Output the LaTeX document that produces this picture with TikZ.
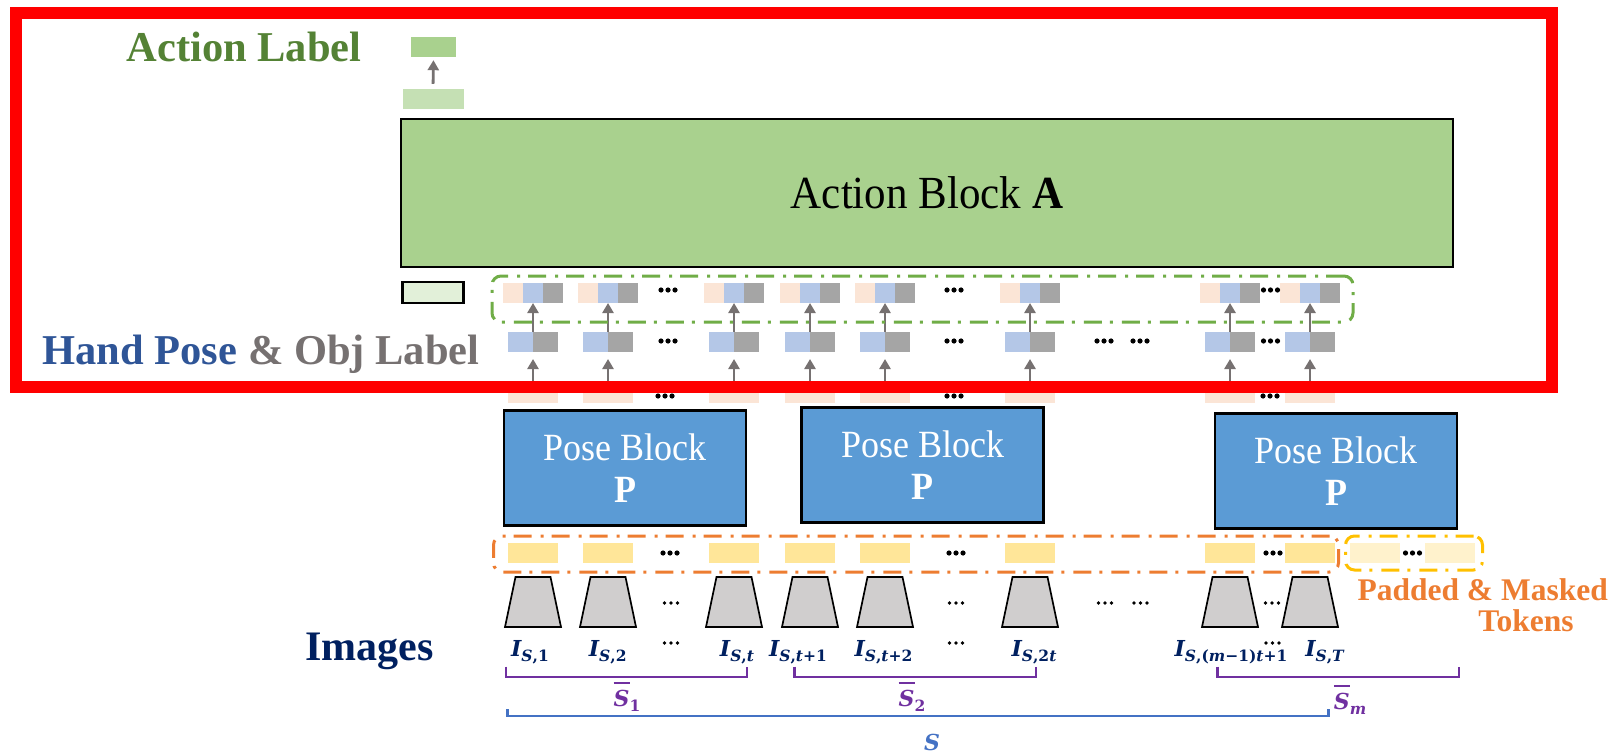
\documentclass[tikz,border=0pt]{standalone}
\usepackage{fontspec}
\setmainfont{Liberation Serif}
\newfontfamily\mathlike{DejaVu Serif}
\usetikzlibrary{arrows.meta,calc}

\definecolor{frameRed}{HTML}{FF0000}
\definecolor{actGreen}{HTML}{A9D18E}
\definecolor{actGreenL}{HTML}{C5E0B4}
\definecolor{actGreenXL}{HTML}{E2F0D9}
\definecolor{labGreen}{HTML}{548235}
\definecolor{poseBlue}{HTML}{5B9BD5}
\definecolor{handBlue}{HTML}{2F5597}
\definecolor{objGray}{HTML}{767171}
\definecolor{arrGray}{HTML}{767171}
\definecolor{tokPink}{HTML}{FBE5D6}
\definecolor{tokBlue}{HTML}{B4C7E7}
\definecolor{tokGray}{HTML}{A5A5A5}
\definecolor{tokYellow}{HTML}{FFE699}
\definecolor{tokYellowL}{HTML}{FFF2CC}
\definecolor{dashGreen}{HTML}{70AD47}
\definecolor{dashOrange}{HTML}{ED7D31}
\definecolor{dashAmber}{HTML}{FFC000}
\definecolor{imgNavy}{HTML}{002060}
\definecolor{segPurple}{HTML}{7030A0}
\definecolor{seqBlue}{HTML}{4472C4}
\definecolor{trapGray}{HTML}{D0CECE}

% image label: bold italic I with a subscript
\newcommand\imgI[1]{{\mathlike\bfseries\itshape\fontsize{22}{22}\selectfont I}%
  \raisebox{-5pt}{\mathlike\bfseries\fontsize{15.5}{15.5}\selectfont #1}}
% segment label: barred S with a subscript
\newcommand\segS[1]{{\mathlike\bfseries\itshape\fontsize{22}{22}\selectfont
  \vbox{\hrule height 2pt\kern 6pt\hbox{S}}}%
  \raisebox{-5pt}{\mathlike\bfseries\fontsize{15.5}{15.5}\selectfont #1}}
% block captions are set slightly taller than wide
\newcommand\tallish[1]{\scalebox{1}[1.07]{#1}}

\tikzset{
  tok3/.style={minimum width=60pt, minimum height=20pt, inner sep=0pt, outer sep=0pt,
    path picture={
      \fill[tokPink] (path picture bounding box.south west) rectangle
        ($(path picture bounding box.north west)!1/3!(path picture bounding box.north east)$);
      \fill[tokBlue] ($(path picture bounding box.south west)!1/3!(path picture bounding box.south east)$) rectangle
        ($(path picture bounding box.north west)!2/3!(path picture bounding box.north east)$);
      \fill[tokGray] ($(path picture bounding box.south west)!2/3!(path picture bounding box.south east)$) rectangle
        (path picture bounding box.north east);}},
  tok2/.style={minimum width=50pt, minimum height=20pt, inner sep=0pt, outer sep=0pt,
    path picture={
      \fill[tokBlue] (path picture bounding box.south west) rectangle (path picture bounding box.north);
      \fill[tokGray] (path picture bounding box.south) rectangle (path picture bounding box.north east);}},
  tok1/.style={minimum width=50pt, minimum height=20pt, inner sep=0pt, outer sep=0pt, fill=#1},
  trap/.style={draw=black, fill=trapGray, line width=1.7pt, line join=miter},
  poseblk/.style={draw=black, line width=2.4pt, fill=poseBlue, minimum width=242pt,
    minimum height=115pt, inner sep=0pt, align=center, text=white,
    font=\fontsize{36}{42}\selectfont},
  flow/.style={draw=arrGray, line width=2.8pt, -{Triangle[width=11pt,length=10pt]}},
  dashbox/.style={draw=#1, line width=3pt, rounded corners=9pt, inner sep=0pt,
    dash pattern=on 18pt off 8pt on 3pt off 9pt},
  bigdots/.pic={\fill (-7,0) circle[radius=2.6] (0,0) circle[radius=2.6] (7,0) circle[radius=2.6];},
  smalldots/.pic={\fill (-6.5,0) circle[radius=1.9] (0,0) circle[radius=1.9] (6.5,0) circle[radius=1.9];},
  segbrace/.style={draw=segPurple, line width=2.4pt},
  seqbrace/.style={draw=seqBlue, line width=2.4pt},
  bigtext/.style={font=\fontsize{42.5}{50}\selectfont\bfseries, anchor=base, inner sep=0pt},
}

\begin{document}
\begin{tikzpicture}[x=1pt, y=-1pt]
\useasboundingbox (0,0) rectangle (1616,754);

% ---- action head ----
\node[fill=actGreen, minimum width=45pt, minimum height=20pt, inner sep=0pt] (aout) at (433.5,47) {};
\node[fill=actGreenL, minimum width=61pt, minimum height=20pt, inner sep=0pt] (ain) at (433,99) {};
\draw[flow, shorten <=5pt, shorten >=3pt] (ain.north) -- (aout.south);
\node[bigtext, text=labGreen] (albl) at (244,62) {Action Label};

\node[draw=black, line width=2.4pt, fill=actGreen, minimum width=1052pt, minimum height=148pt,
  inner sep=0pt, font=\fontsize{43}{50}\selectfont] (ablk) at (927,193) {\tallish{Action Block \textbf{A}}};

\node[draw=black, line width=2.2pt, fill=actGreenXL, minimum width=61pt, minimum height=21pt,
  inner sep=0pt] (cls) at (433,292.5) {};

\node[bigtext] (hlbl) at (261,364) {\textcolor{handBlue}{Hand Pose} \textcolor{objGray}{\& Obj Label}};

% ---- token columns ----
\foreach \c [count=\i] in {533,608,734,810,885,1030,1230,1310} {
  \node[tok3] (ra-\i) at (\c,293) {};
  \node[tok2] (rb-\i) at (\c,342) {};
  \node[tok1=tokPink] (pk-\i) at (\c,393) {};
  \node[tok1=tokYellow] (ft-\i) at (\c,553) {};
  \coordinate (im-\i) at (\c,602);
  \draw[trap] ($(im-\i)+(-28,25)$) -- ($(im-\i)+(-17.5,-25)$) -- ($(im-\i)+(17.5,-25)$) -- ($(im-\i)+(28,25)$) -- cycle;
  \draw[flow, shorten >=7pt] (pk-\i.north) -- (rb-\i.south);
  \draw[flow] (rb-\i.north) -- (ra-\i.south);
}
\node[tok1=tokYellowL] (pd-1) at (1375,553) {};
\node[tok1=tokYellowL] (pd-2) at (1450,553) {};

% ellipses between tokens
\foreach \x in {668,954,1270.5} \pic at (\x,290) {bigdots};
\foreach \x in {668,954,1104,1140,1270.5} \pic at (\x,341) {bigdots};
\foreach \x in {665,954,1270} \pic at (\x,396) {bigdots};
\foreach \x in {670,956,1273,1412.5} \pic at (\x,553) {bigdots};
\foreach \x in {671,956,1105,1140.5,1272} \pic at (\x,603) {smalldots};
\foreach \x in {671,956,1272.5} \pic at (\x,643) {smalldots};

% grouping frames
\node[dashbox=dashGreen, minimum width=861pt, minimum height=46pt] (grpA) at (922.5,299) {};
\node[dashbox=dashOrange, minimum width=845pt, minimum height=36pt] (grpF) at (916,554) {};
\node[dashbox=dashAmber, minimum width=137pt, minimum height=34pt] (grpP) at (1414,553) {};

% pose blocks
\node[poseblk] (pb-1) at (625,468) {\tallish{Pose Block}\\\tallish{\textbf{P}}};
\node[poseblk] (pb-2) at (922.5,465) {\tallish{Pose Block}\\\tallish{\textbf{P}}};
\node[poseblk] (pb-3) at (1336,471) {\tallish{Pose Block}\\\tallish{\textbf{P}}};

% ---- image labels ----
\begin{scope}[every node/.style={anchor=base, inner sep=0pt, text=imgNavy}]
  \node (il-1) at (530,656.7) {\imgI{\textit{S},1}};
  \node (il-2) at (607.7,656.7) {\imgI{\textit{S},2}};
  \node (il-3) at (737,656.7) {\imgI{\textit{S},\textit{t}}};
  \node (il-4) at (798,656.7) {\imgI{\textit{S},\textit{t}+1}};
  \node (il-5) at (883.5,656.7) {\imgI{\textit{S},\textit{t}+2}};
  \node (il-6) at (1034,656.7) {\imgI{\textit{S},2\textit{t}}};
  \node (il-7) at (1231,656.7) {\imgI{\textit{S},(\textit{m}−1)\textit{t}+1}};
  \node (il-8) at (1325,656.7) {\imgI{\textit{S},\textit{T}}};
\end{scope}
\node[bigtext, text=imgNavy, font=\fontsize{42}{50}\selectfont\bfseries] (imlbl) at (369.5,660) {Images};

% segment brackets
\draw[segbrace] (505.7,666.7) -- (505.7,676.7) -- (747,676.7) -- (747,666.7);
\draw[segbrace] (794.4,666.7) -- (794.4,676.7) -- (1036,676.7) -- (1036,666.7);
\draw[segbrace] (1217.3,666.7) -- (1217.3,676.7) -- (1459,676.7) -- (1459,666.7);
\draw[seqbrace] (507.3,709.3) -- (507.3,715.7) -- (1328.3,715.7) -- (1328.3,709.3);
\begin{scope}[every node/.style={anchor=base, inner sep=0pt, text=segPurple}]
  \node (sg-1) at (627,706.7) {\segS{1}};
  \node (sg-2) at (912,706.7) {\segS{2}};
  \node (sg-m) at (1350,709) {\segS{\textit{m}}};
\end{scope}
\node[anchor=base, inner sep=0pt, text=seqBlue, font=\mathlike\bfseries\itshape\fontsize{22}{22}\selectfont] (seq) at (932,750.5) {S};

% padded tokens caption
\node[anchor=base east, inner sep=0pt, text=dashOrange, font=\fontsize{31.5}{31.5}\selectfont\bfseries] (padA) at (1608,600) {Padded \& Masked};
\node[anchor=base, inner sep=0pt, text=dashOrange, font=\fontsize{31.5}{31.5}\selectfont\bfseries] (padB) at (1526,631) {Tokens};

% highlight frame
\node[draw=frameRed, line width=12pt, minimum width=1536pt, minimum height=374pt, inner sep=0pt] (focus) at (784,200) {};
\end{tikzpicture}
\end{document}
